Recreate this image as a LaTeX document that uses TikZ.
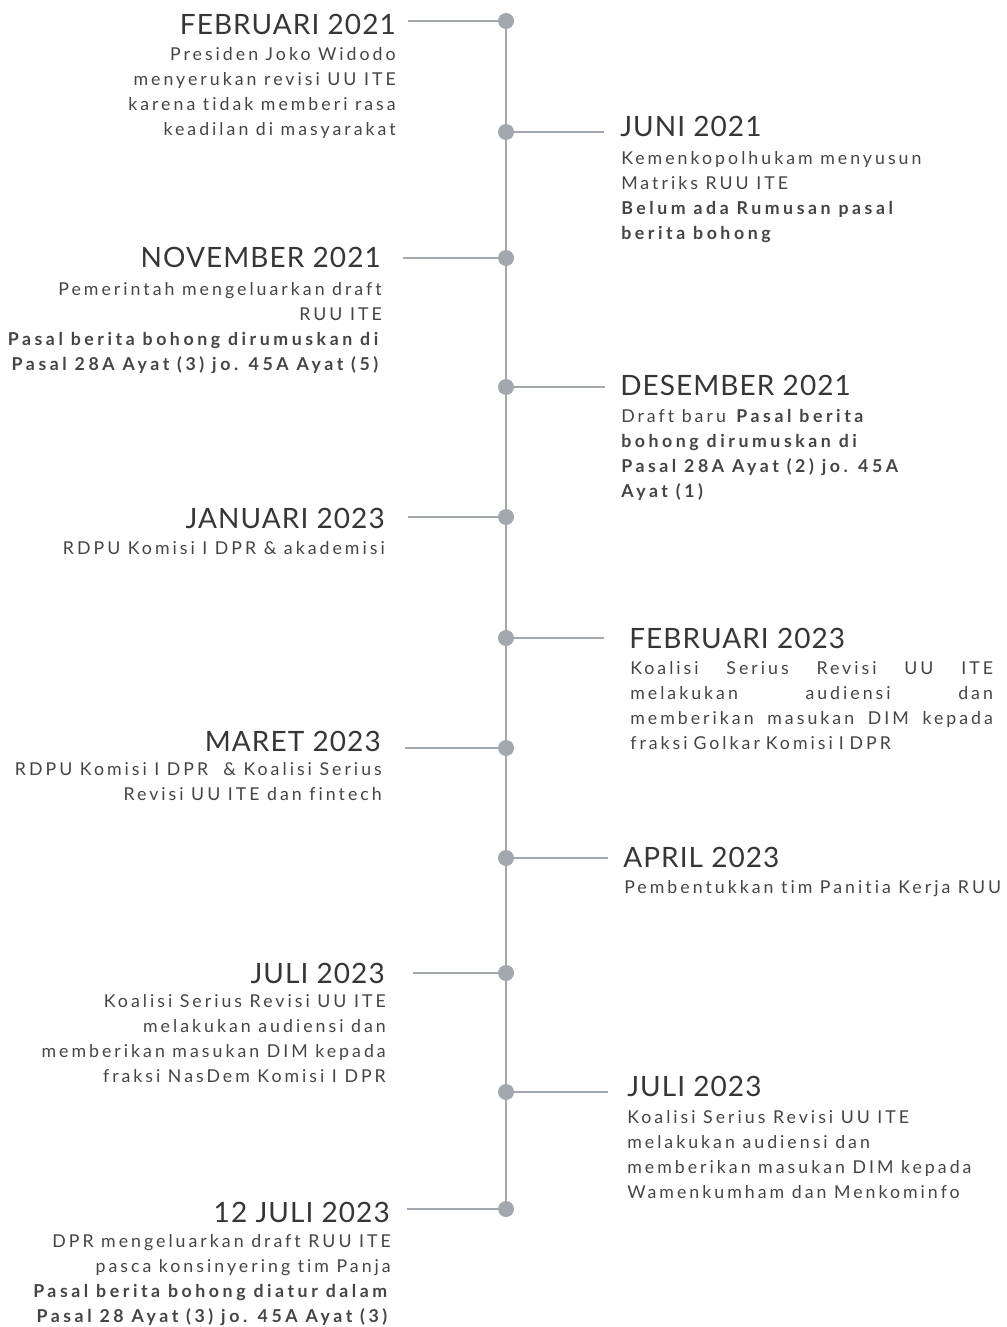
\documentclass[tikz,border=0pt]{standalone}
\usepackage{fontspec}
\usepackage{xcolor}
\usetikzlibrary{positioning, calc}
\setmainfont{Lato}
\newfontfamily\titlefont[LetterSpace=3.8, Ligatures=NoCommon]{Lato}
\newfontfamily\bodyfont[LetterSpace=17, Ligatures=NoCommon, BoldFeatures={LetterSpace=20}]{Lato}
\definecolor{linegray}{HTML}{A3A8AE}
\definecolor{titlegray}{HTML}{363636}
\definecolor{textgray}{HTML}{444444}
\tikzset{
  tline/.style={linegray, line width=2.2pt},
  tdot/.style={circle, fill=linegray, inner sep=0pt, minimum size=12pt},
  datetitle/.style={inner sep=0pt, text=titlegray, font=\titlefont\fontsize{21}{24}\selectfont},
  datetext/.style={inner sep=0pt, text=textgray, font=\bodyfont\fontsize{13.3}{18.75}\selectfont},
}

\begin{document}
\begin{tikzpicture}[x=0.75pt, y=-0.75pt]
    \useasboundingbox (0,0) rectangle (1006,1327);
    \def\ax{506}

    \node[tdot] (d1) at (\ax,21) {};
    \node[tdot] (d2) at (\ax,132) {};
    \node[tdot] (d3) at (\ax,258) {};
    \node[tdot] (d4) at (\ax,387) {};
    \node[tdot] (d5) at (\ax,517) {};
    \node[tdot] (d6) at (\ax,638) {};
    \node[tdot] (d7) at (\ax,748) {};
    \node[tdot] (d8) at (\ax,858) {};
    \node[tdot] (d9) at (\ax,973) {};
    \node[tdot] (d10) at (\ax,1092) {};
    \node[tdot] (d11) at (\ax,1209) {};
    \draw[tline] (d1) -- (d11);

    \coordinate (e1) at (408,21);
    \coordinate (e2) at (604,132);
    \coordinate (e3) at (403,258);
    \coordinate (e4) at (605,387);
    \coordinate (e5) at (408,517);
    \coordinate (e6) at (604,638);
    \coordinate (e7) at (405,748);
    \coordinate (e8) at (608,858);
    \coordinate (e9) at (413,973);
    \coordinate (e10) at (608,1092);
    \coordinate (e11) at (407,1209);
    \foreach \i in {1,...,11} {\draw[tline] (e\i) -- (d\i);}

    % body texts sit on the baseline of their last line
    \node[datetitle, anchor=base east] (t1) at (396,35) {FEBRUARI 2021};
    \node[datetext, anchor=base east, align=right] (b1) at (396,136) {Presiden Joko Widodo\\menyerukan revisi UU ITE\\karena tidak memberi rasa\\keadilan di masyarakat};

    \node[datetitle, anchor=base west] (t2) at (620,137) {JUNI 2021};
    \node[datetext, anchor=base west, align=left] (b2) at (621,239) {Kemenkopolhukam menyusun\\Matriks RUU ITE\\\textbf{Belum ada Rumusan pasal}\\\textbf{berita bohong}};

    \node[datetitle, anchor=base east] (t3) at (381,267) {NOVEMBER 2021};
    \node[datetext, anchor=base east, align=right] (b3) at (382,370) {Pemerintah mengeluarkan draft\\RUU ITE\\\textbf{Pasal berita bohong dirumuskan di}\\\textbf{Pasal 28A Ayat (3) jo. 45A Ayat (5)}};

    \node[datetitle, anchor=base west] (t4) at (620,395) {DESEMBER 2021};
    \node[datetext, anchor=base west, align=left] (b4) at (621,497) {Draft baru\ \textbf{Pasal berita}\\\textbf{bohong dirumuskan di}\\\textbf{Pasal 28A Ayat (2) jo. 45A}\\\textbf{Ayat (1)}};

    \node[datetitle, anchor=base east] (t5) at (385,528) {JANUARI 2023};
    \node[datetext, anchor=base east, align=right] (b5) at (385,554) {RDPU Komisi I DPR \& akademisi};

    \node[datetitle, anchor=base west] (t6) at (629,648) {FEBRUARI 2023};
    \node[datetext, anchor=base west, align=left, text width=272pt] (b6) at (630,674) {Koalisi\hfill Serius\hfill Revisi\hfill UU\hfill ITE\\melakukan\hfill audiensi\hfill dan\\memberikan\hfill masukan\hfill DIM\hfill kepada\\fraksi Golkar Komisi I DPR};

    \node[datetitle, anchor=base east] (t7) at (381,751) {MARET 2023};
    \node[datetext, anchor=base east, align=right] (b7) at (382,800) {RDPU Komisi I DPR\ \ \& Koalisi Serius\\Revisi UU ITE dan fintech};

    \node[datetitle, anchor=base west] (t8) at (623,867) {APRIL 2023};
    \node[datetext, anchor=base west, align=left] (b8) at (624,893) {Pembentukkan tim Panitia Kerja RUU};

    \node[datetitle, anchor=base east] (t9) at (385,983) {JULI 2023};
    \node[datetext, anchor=base east, align=right] (b9) at (386,1082) {Koalisi Serius Revisi UU ITE\\melakukan audiensi dan\\memberikan masukan DIM kepada\\fraksi NasDem Komisi I DPR};

    \node[datetitle, anchor=base west] (t10) at (627,1096) {JULI 2023};
    \node[datetext, anchor=base west, align=left] (b10) at (627,1198) {Koalisi Serius Revisi UU ITE\\melakukan audiensi dan\\memberikan masukan DIM kepada\\Wamenkumham dan Menkominfo};

    \node[datetitle, anchor=base east] (t11) at (390,1222) {12 JULI 2023};
    \node[datetext, anchor=base east, align=right] (b11) at (391,1322) {DPR mengeluarkan draft RUU ITE\\pasca konsinyering tim Panja\\\textbf{Pasal berita bohong diatur dalam}\\\textbf{Pasal 28 Ayat (3) jo. 45A Ayat (3)}};
\end{tikzpicture}
\end{document}
